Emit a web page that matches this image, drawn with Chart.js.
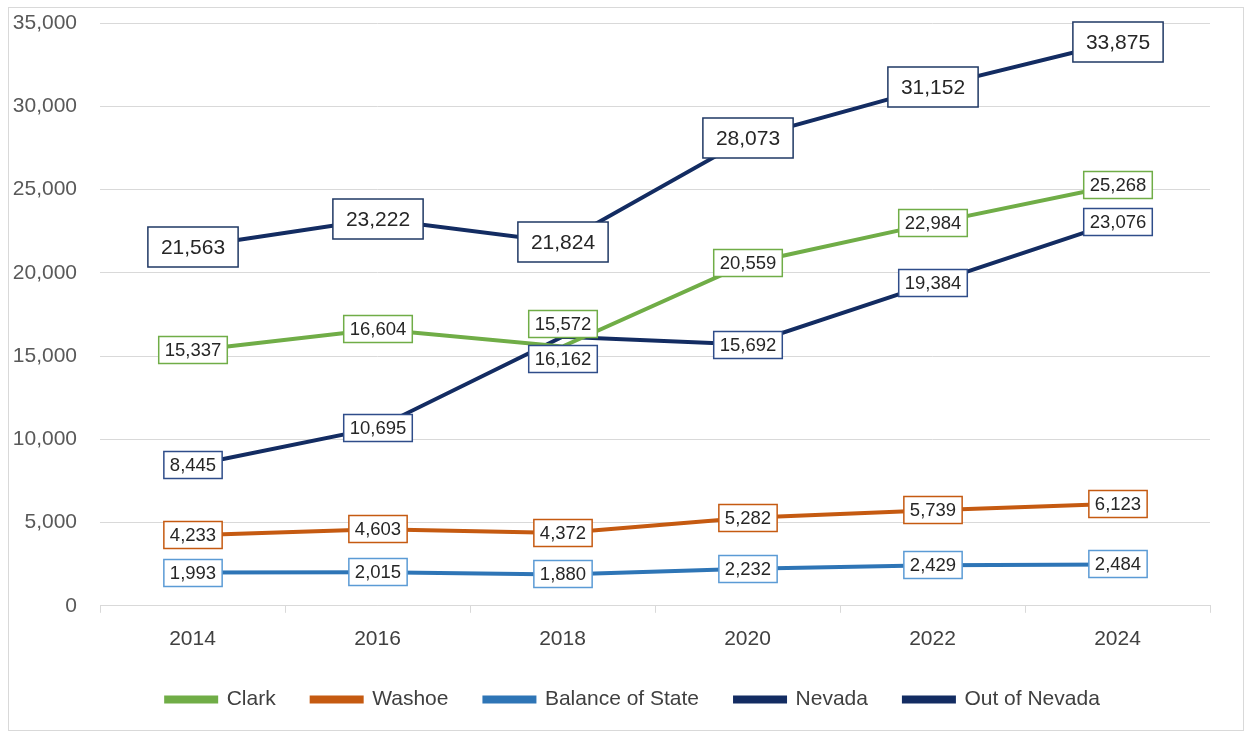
<!DOCTYPE html>
<html>
<head>
<meta charset="utf-8">
<script src="https://cdn.jsdelivr.net/npm/chart.js@4.4.1/dist/chart.umd.min.js"></script>
<style>
  html, body { margin: 0; padding: 0; background: #fff; }
  #wrap { position: relative; width: 1254px; height: 734px; }
</style>
</head>
<body>
<div id="wrap"><canvas id="myChart" width="1254" height="734"></canvas></div>
<script>
const years = ["2014", "2016", "2018", "2020", "2022", "2024"];
const clark = [15337, 16604, 15572, 20559, 22984, 25268];
const washoe = [4233, 4603, 4372, 5282, 5739, 6123];
const balanceOfState = [1993, 2015, 1880, 2232, 2429, 2484];
const nevada = [8445, 10695, 16162, 15692, 19384, 23076];
const outOfNevada = [21563, 23222, 21824, 28073, 31152, 33875];
const yTicks = [0, 5000, 10000, 15000, 20000, 25000, 30000, 35000];

const FONT = "'Liberation Sans', Arial, sans-serif";

// label look per series (border colour, big or small box)
const labelStyle = {
  "Clark": { border: "#70ad47", big: false },
  "Washoe": { border: "#c55a11", big: false },
  "Balance of State": { border: "#5b9bd5", big: false },
  "Nevada": { border: "#2f4d8a", big: false },
  "Out of Nevada": { border: "#1f3864", big: true }
};
// a couple of labels sit off the point so they don't collide (2018)
const labelNudge = { "Clark": { 2: -23 }, "Nevada": { 2: 22 } };

function line(label, values, color) {
  return {
    label: label,
    data: values,
    borderColor: color,
    backgroundColor: color,
    borderWidth: 4,
    pointRadius: 0,
    pointHoverRadius: 0,
    tension: 0,
    fill: false
  };
}

const frame = {
  id: "frame",
  afterLayout(chart) {
    // nudge legend a bit right, like the original
    chart.legend.left += 23;
    chart.legend.right += 23;
  },
  beforeDraw(chart) {
    const c = chart.ctx;
    c.save();
    c.fillStyle = "#fff";
    c.fillRect(0, 0, chart.width, chart.height);
    c.strokeStyle = "#d9d9d9";
    c.lineWidth = 1;
    c.strokeRect(8.5, 7.5, 1235, 723);
    c.restore();
  }
};

const boxLabels = {
  id: "boxLabels",
  afterDatasetsDraw(chart) {
    const c = chart.ctx;
    c.save();
    c.textAlign = "center";
    c.textBaseline = "middle";
    chart.data.datasets.forEach(function (ds, di) {
      const meta = chart.getDatasetMeta(di);
      const st = labelStyle[ds.label];
      const size = st.big ? 21 : 18.5;
      const padX = st.big ? 13 : 6;
      const h = st.big ? 40 : 27;
      c.font = size + "px " + FONT;
      meta.data.forEach(function (pt, i) {
        const txt = ds.data[i].toLocaleString("en-US");
        const w = c.measureText(txt).width + padX * 2;
        const dy = (labelNudge[ds.label] && labelNudge[ds.label][i]) || 0;
        const x = Math.round(pt.x), y = Math.round(pt.y + dy);
        c.fillStyle = "#fff";
        c.fillRect(x - w / 2, y - h / 2, w, h);
        c.strokeStyle = st.border;
        c.lineWidth = 1.5;
        c.strokeRect(x - w / 2, y - h / 2, w, h);
        c.fillStyle = "#262626";
        c.fillText(txt, x, y + 1);
      });
    });
    c.restore();
  }
};

new Chart(document.getElementById("myChart"), {
  type: "line",
  data: {
    labels: years,
    datasets: [
      line("Clark", clark, "#70ad47"),
      line("Washoe", washoe, "#c55a11"),
      line("Balance of State", balanceOfState, "#2e75b6"),
      line("Nevada", nevada, "#132c62"),
      line("Out of Nevada", outOfNevada, "#132c62")
    ]
  },
  options: {
    responsive: false,
    animation: false,
    events: [],
    layout: { padding: { left: 10, right: 44, top: 23, bottom: 14 } },
    scales: {
      x: {
        offset: true,
        afterFit(scale) { scale.height -= 13; },
        grid: { offset: true, drawOnChartArea: false, drawTicks: true, tickLength: 7, color: "#d9d9d9" },
        border: { color: "#d9d9d9", width: 1 },
        ticks: { color: "#404040", font: { family: FONT, size: 21 }, padding: 14 }
      },
      y: {
        min: 0,
        max: 35000,
        afterFit(scale) {
          scale.width = 90;
          scale.paddingTop = 0;
          scale.paddingBottom = 0;
        },
        afterBuildTicks(scale) { scale.ticks = yTicks.map(v => ({ value: v })); },
        grid: { color: "#d9d9d9", drawTicks: false },
        border: { display: false },
        ticks: {
          color: "#595959",
          font: { family: FONT, size: 21 },
          padding: 23,
          callback: v => v.toLocaleString("en-US")
        }
      }
    },
    plugins: {
      legend: {
        position: "bottom",
        labels: {
          color: "#404040",
          font: { family: FONT, size: 21 },
          boxWidth: 50,
          boxHeight: 4,
          padding: 36
        }
      },
      tooltip: { enabled: false }
    }
  },
  plugins: [frame, boxLabels]
});
</script>
</body>
</html>
